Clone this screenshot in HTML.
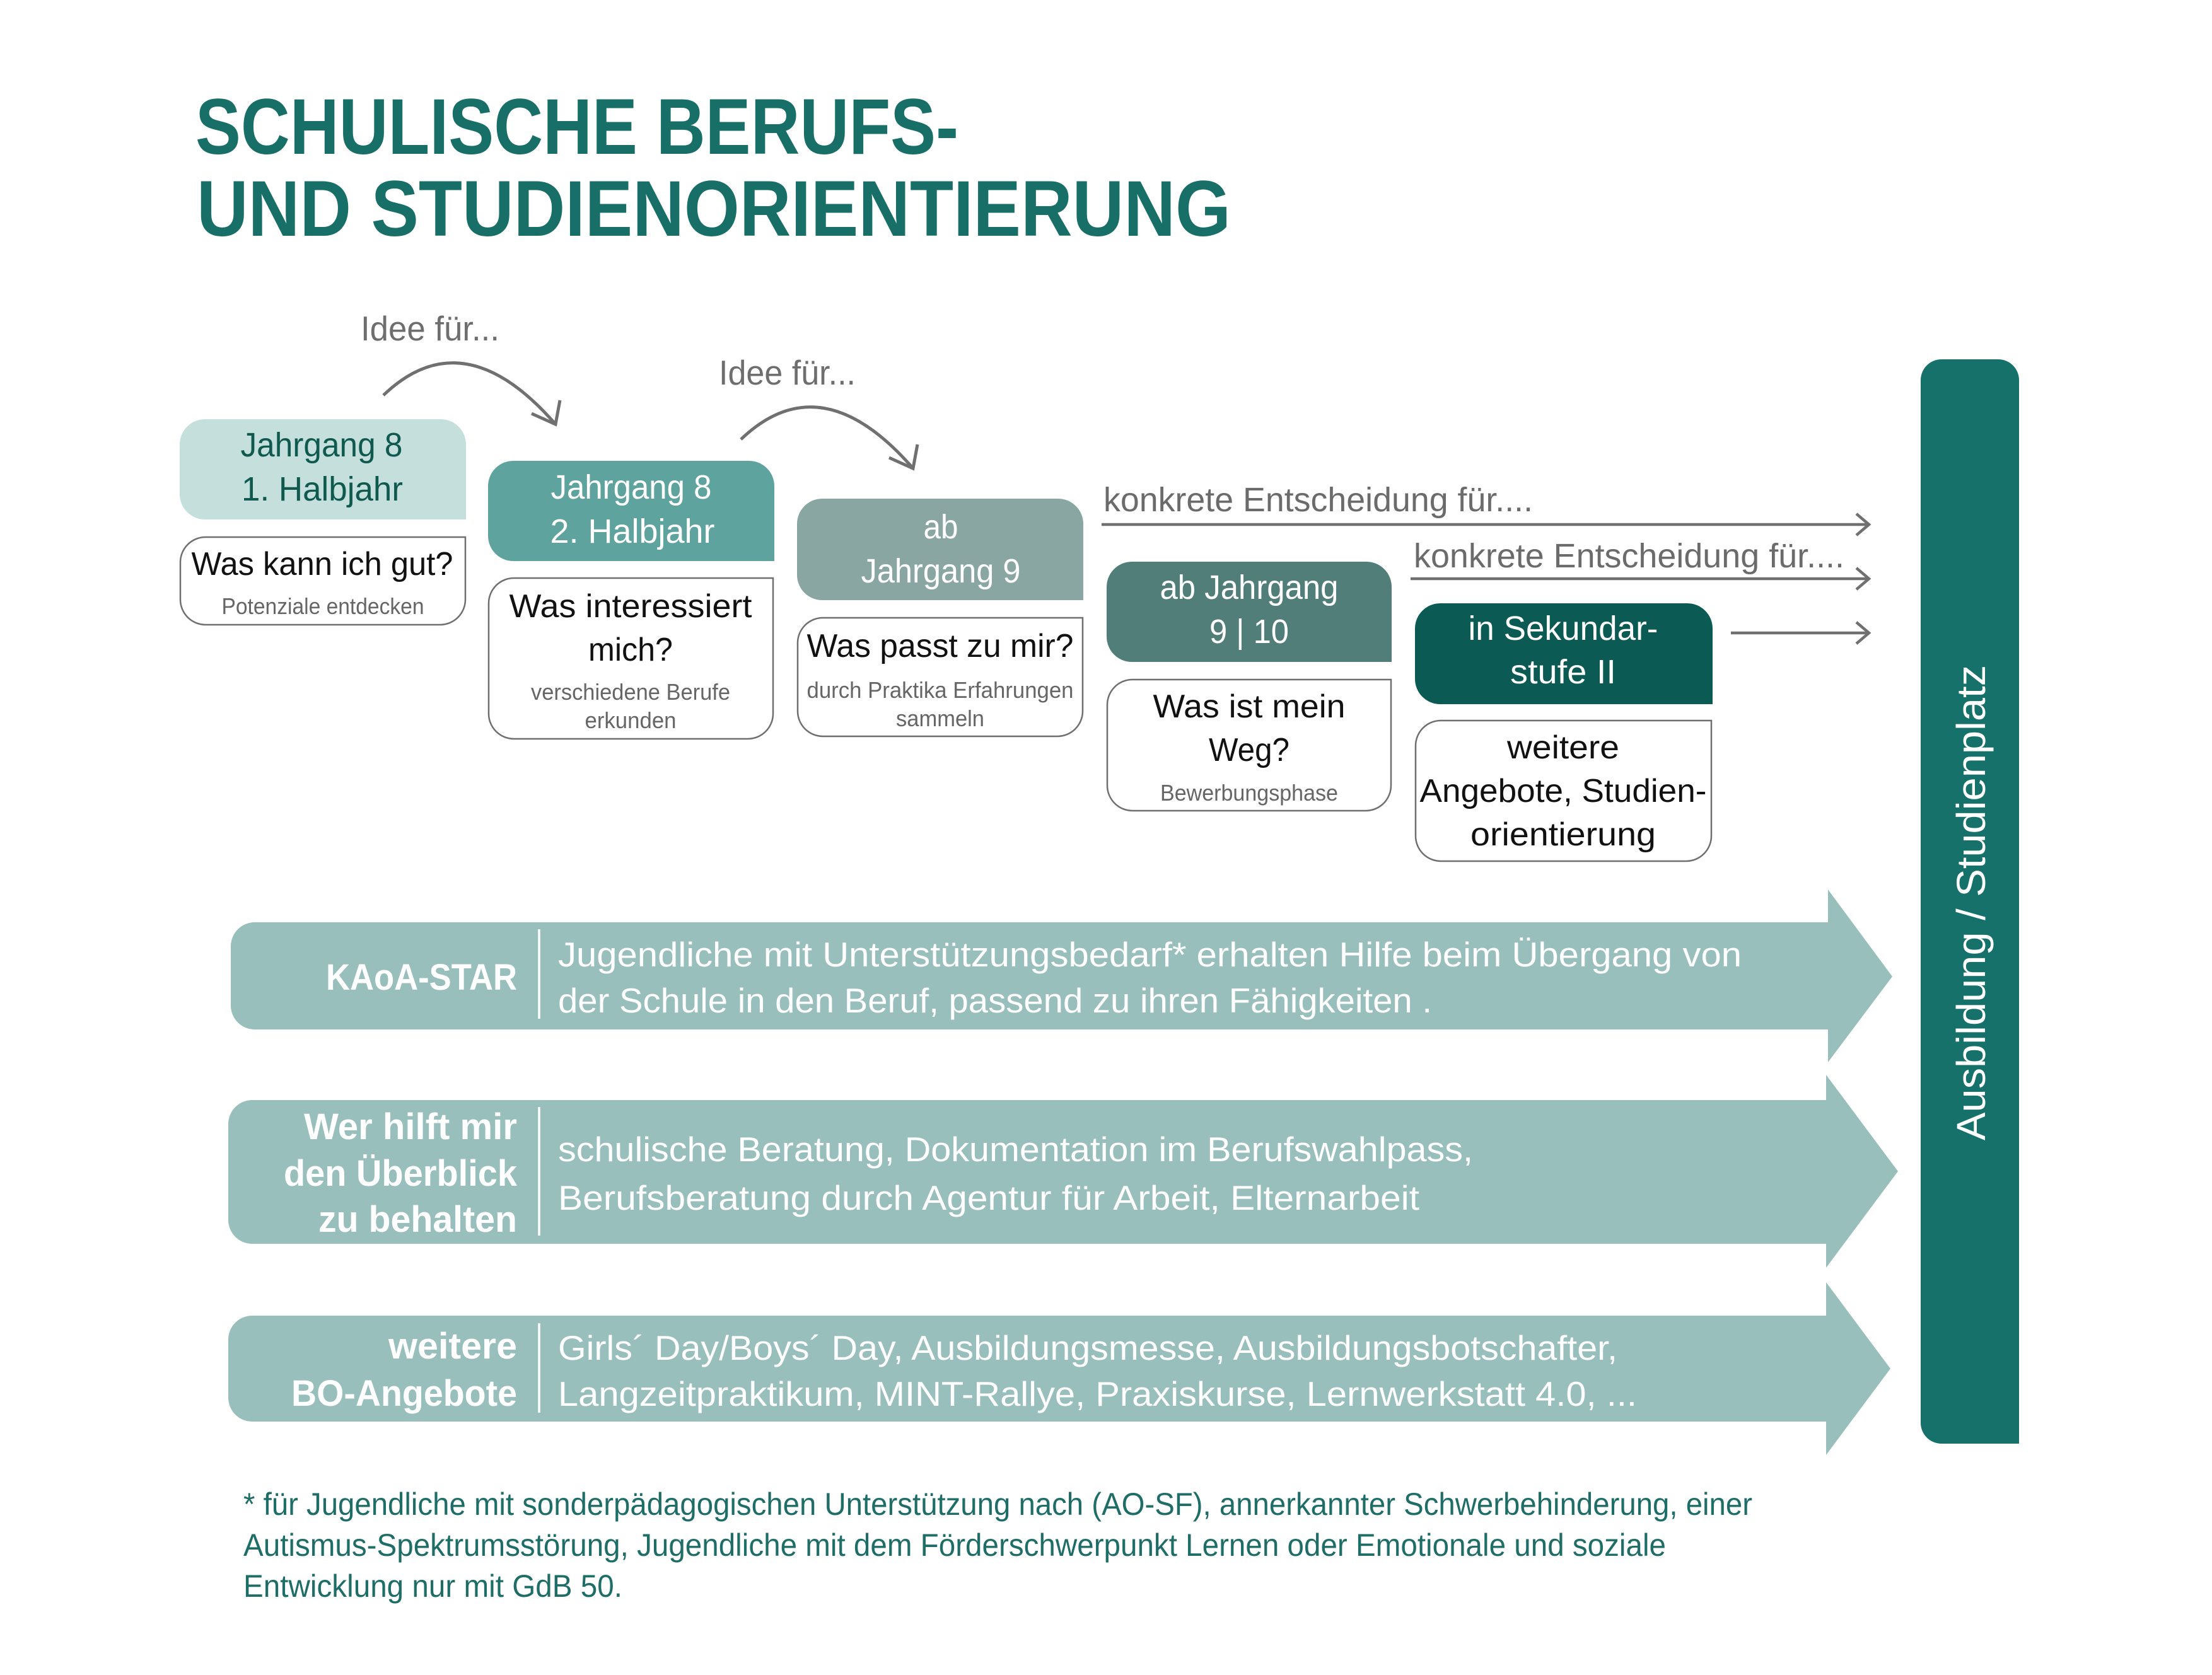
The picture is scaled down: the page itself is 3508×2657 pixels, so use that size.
<!DOCTYPE html>
<html>
<head>
<meta charset="utf-8">
<style>
html,body{margin:0;padding:0;background:#ffffff;}
svg{display:block;}
text{font-family:"Liberation Sans","DejaVu Sans",sans-serif;}
</style>
</head>
<body>
<svg width="3508" height="2657" viewBox="0 0 3508 2657" xmlns="http://www.w3.org/2000/svg">
<rect x="0" y="0" width="3508" height="2657" fill="#ffffff"/>

<!-- Title -->
<g fill="#176f67" font-weight="bold" font-size="125">
<text x="310" y="244" textLength="1210" lengthAdjust="spacingAndGlyphs">SCHULISCHE BERUFS-</text>
<text x="312" y="374" textLength="1640" lengthAdjust="spacingAndGlyphs">UND STUDIENORIENTIERUNG</text>
</g>

<!-- Idee für arcs -->
<g fill="none" stroke="#707070" stroke-width="5" stroke-linecap="butt" stroke-linejoin="miter">
<path d="M608,627 Q735,505 881,673"/>
<polyline points="843,656 881,673 888,635"/>
<path d="M1175,697 Q1302,575 1448,743"/>
<polyline points="1410,726 1448,743 1455,705"/>
</g>
<g fill="#6e6e6e" font-size="55">
<text x="572" y="540" textLength="220" lengthAdjust="spacingAndGlyphs">Idee für...</text>
<text x="1140" y="610" textLength="217" lengthAdjust="spacingAndGlyphs">Idee für...</text>
</g>

<!-- Header boxes -->
<path d="M325,665 H699 A40 40 0 0 1 739,705 V824 H325 A40 40 0 0 1 285,784 V705 A40 40 0 0 1 325,665 Z" fill="#c4dfdc"/>
<path d="M814,731 H1188 A40 40 0 0 1 1228,771 V890 H814 A40 40 0 0 1 774,850 V771 A40 40 0 0 1 814,731 Z" fill="#5fa39f"/>
<path d="M1304,791 H1678 A40 40 0 0 1 1718,831 V952 H1304 A40 40 0 0 1 1264,912 V831 A40 40 0 0 1 1304,791 Z" fill="#8aa6a3"/>
<path d="M1795,891 H2167 A40 40 0 0 1 2207,931 V1050 H1795 A40 40 0 0 1 1755,1010 V931 A40 40 0 0 1 1795,891 Z" fill="#517e79"/>
<path d="M2284,957 H2676 A40 40 0 0 1 2716,997 V1117 H2284 A40 40 0 0 1 2244,1077 V997 A40 40 0 0 1 2284,957 Z" fill="#0b5a53"/>

<!-- White boxes -->
<g fill="#ffffff" stroke="#6f6f6f" stroke-width="2.5">
<path d="M326,852 H738 V951 A40 40 0 0 1 698,991 H326 A40 40 0 0 1 286,951 V892 A40 40 0 0 1 326,852 Z"/>
<path d="M815,917 H1226 V1132 A40 40 0 0 1 1186,1172 H815 A40 40 0 0 1 775,1132 V957 A40 40 0 0 1 815,917 Z"/>
<path d="M1305,980 H1717 V1128 A40 40 0 0 1 1677,1168 H1305 A40 40 0 0 1 1265,1128 V1020 A40 40 0 0 1 1305,980 Z"/>
<path d="M1796,1078 H2206 V1246 A40 40 0 0 1 2166,1286 H1796 A40 40 0 0 1 1756,1246 V1118 A40 40 0 0 1 1796,1078 Z"/>
<path d="M2285,1143 H2714 V1326 A40 40 0 0 1 2674,1366 H2285 A40 40 0 0 1 2245,1326 V1183 A40 40 0 0 1 2285,1143 Z"/>
</g>

<!-- Header texts -->
<g font-size="54" text-anchor="middle">
<text x="510" y="724" fill="#10594f" textLength="257" lengthAdjust="spacingAndGlyphs">Jahrgang 8</text>
<text x="511" y="794" fill="#10594f" textLength="256" lengthAdjust="spacingAndGlyphs">1. Halbjahr</text>
<g fill="#ffffff">
<text x="1001" y="791" textLength="255" lengthAdjust="spacingAndGlyphs">Jahrgang 8</text>
<text x="1003" y="861" textLength="261" lengthAdjust="spacingAndGlyphs">2. Halbjahr</text>
<text x="1492" y="854" textLength="55" lengthAdjust="spacingAndGlyphs">ab</text>
<text x="1492" y="924" textLength="253" lengthAdjust="spacingAndGlyphs">Jahrgang 9</text>
<text x="1981" y="950" textLength="283" lengthAdjust="spacingAndGlyphs">ab Jahrgang</text>
<text x="1981" y="1020" textLength="126" lengthAdjust="spacingAndGlyphs">9 | 10</text>
<text x="2479" y="1015" textLength="301" lengthAdjust="spacingAndGlyphs">in Sekundar-</text>
<text x="2479" y="1084" textLength="168" lengthAdjust="spacingAndGlyphs">stufe II</text>
</g>
</g>

<!-- White box texts -->
<g font-size="52" text-anchor="middle" fill="#111111">
<text x="511" y="912" textLength="415" lengthAdjust="spacingAndGlyphs">Was kann ich gut?</text>
<text x="1000" y="979" textLength="385" lengthAdjust="spacingAndGlyphs">Was interessiert</text>
<text x="1000" y="1048" textLength="134" lengthAdjust="spacingAndGlyphs">mich?</text>
<text x="1491" y="1042" textLength="423" lengthAdjust="spacingAndGlyphs">Was passt zu mir?</text>
<text x="1981" y="1138" textLength="305" lengthAdjust="spacingAndGlyphs">Was ist mein</text>
<text x="1981" y="1207" textLength="128" lengthAdjust="spacingAndGlyphs">Weg?</text>
<text x="2479" y="1203" textLength="178" lengthAdjust="spacingAndGlyphs">weitere</text>
<text x="2479" y="1272" textLength="455" lengthAdjust="spacingAndGlyphs">Angebote, Studien-</text>
<text x="2479" y="1341" textLength="294" lengthAdjust="spacingAndGlyphs">orientierung</text>
</g>
<g font-size="36" text-anchor="middle" fill="#666666">
<text x="512" y="974" textLength="321" lengthAdjust="spacingAndGlyphs">Potenziale entdecken</text>
<text x="1000" y="1110" textLength="316" lengthAdjust="spacingAndGlyphs">verschiedene Berufe</text>
<text x="1000" y="1155" textLength="145" lengthAdjust="spacingAndGlyphs">erkunden</text>
<text x="1491" y="1107" textLength="423" lengthAdjust="spacingAndGlyphs">durch Praktika Erfahrungen</text>
<text x="1491" y="1152" textLength="140" lengthAdjust="spacingAndGlyphs">sammeln</text>
<text x="1981" y="1270" textLength="282" lengthAdjust="spacingAndGlyphs">Bewerbungsphase</text>
</g>

<!-- konkrete Entscheidung lines -->
<g fill="none" stroke="#707070" stroke-width="4.5">
<path d="M1747,832 H2962"/>
<polyline points="2944,815 2964,832 2944,849"/>
<path d="M2237,918 H2962"/>
<polyline points="2944,901 2964,918 2944,935"/>
<path d="M2745,1004 H2962"/>
<polyline points="2944,987 2964,1004 2944,1021"/>
</g>
<g fill="#6b6b6b" font-size="54">
<text x="1750" y="811" textLength="681" lengthAdjust="spacingAndGlyphs">konkrete Entscheidung für....</text>
<text x="2242" y="900" textLength="683" lengthAdjust="spacingAndGlyphs">konkrete Entscheidung für....</text>
</g>

<!-- Vertical bar -->
<path d="M3079,570 H3169 A33 33 0 0 1 3202,603 V2290 H3079 A33 33 0 0 1 3046,2257 V603 A33 33 0 0 1 3079,570 Z" fill="#16716a"/>
<text transform="translate(3148,1432) rotate(-90)" x="0" y="0" text-anchor="middle" font-size="64" fill="#ffffff" textLength="754" lengthAdjust="spacingAndGlyphs">Ausbildung / Studienplatz</text>

<!-- Bands -->
<g fill="#98bfbc">
<path d="M404,1463 H2899 V1411 L3001,1549 L2899,1685 V1633 H404 A38 38 0 0 1 366,1595 V1501 A38 38 0 0 1 404,1463 Z"/>
<path d="M400,1745 H2896 V1705 L3010,1858 L2896,2011 V1973 H400 A38 38 0 0 1 362,1935 V1783 A38 38 0 0 1 400,1745 Z"/>
<path d="M400,2087 H2896 V2034 L2998,2171 L2896,2308 V2255 H400 A38 38 0 0 1 362,2217 V2125 A38 38 0 0 1 400,2087 Z"/>
</g>
<g stroke="#ffffff" stroke-width="3.5">
<line x1="855" y1="1474" x2="855" y2="1616"/>
<line x1="855" y1="1756" x2="855" y2="1960"/>
<line x1="855" y1="2099" x2="855" y2="2241"/>
</g>
<g fill="#ffffff" font-size="58" font-weight="bold" text-anchor="end">
<text x="820" y="1570" textLength="303" lengthAdjust="spacingAndGlyphs">KAoA-STAR</text>
<text x="820" y="1807" textLength="338" lengthAdjust="spacingAndGlyphs">Wer hilft mir</text>
<text x="820" y="1881" textLength="370" lengthAdjust="spacingAndGlyphs">den Überblick</text>
<text x="820" y="1954" textLength="315" lengthAdjust="spacingAndGlyphs">zu behalten</text>
<text x="820" y="2155" textLength="204" lengthAdjust="spacingAndGlyphs">weitere</text>
<text x="820" y="2230" textLength="358" lengthAdjust="spacingAndGlyphs">BO-Angebote</text>
</g>
<g fill="#ffffff" font-size="55">
<text x="885" y="1533" textLength="1877" lengthAdjust="spacingAndGlyphs">Jugendliche mit Unterstützungsbedarf* erhalten Hilfe beim Übergang von</text>
<text x="885" y="1606" textLength="1386" lengthAdjust="spacingAndGlyphs">der Schule in den Beruf, passend zu ihren Fähigkeiten .</text>
<text x="885" y="1842" textLength="1451" lengthAdjust="spacingAndGlyphs">schulische Beratung, Dokumentation im Berufswahlpass,</text>
<text x="885" y="1919" textLength="1366" lengthAdjust="spacingAndGlyphs">Berufsberatung durch Agentur für Arbeit, Elternarbeit</text>
<text x="885" y="2157" textLength="1680" lengthAdjust="spacingAndGlyphs">Girls´ Day/Boys´ Day, Ausbildungsmesse, Ausbildungsbotschafter,</text>
<text x="885" y="2230" textLength="1711" lengthAdjust="spacingAndGlyphs">Langzeitpraktikum, MINT-Rallye, Praxiskurse, Lernwerkstatt 4.0, ...</text>
</g>

<!-- Footnote -->
<g fill="#1e6e67" font-size="50">
<text x="386" y="2403" textLength="2393" lengthAdjust="spacingAndGlyphs">*  für Jugendliche mit sonderpädagogischen Unterstützung nach (AO-SF), annerkannter Schwerbehinderung, einer</text>
<text x="386" y="2468" textLength="2256" lengthAdjust="spacingAndGlyphs">Autismus-Spektrumsstörung, Jugendliche mit dem Förderschwerpunkt Lernen oder Emotionale und soziale</text>
<text x="386" y="2533" textLength="601" lengthAdjust="spacingAndGlyphs">Entwicklung nur mit GdB 50.</text>
</g>
</svg>
</body>
</html>
